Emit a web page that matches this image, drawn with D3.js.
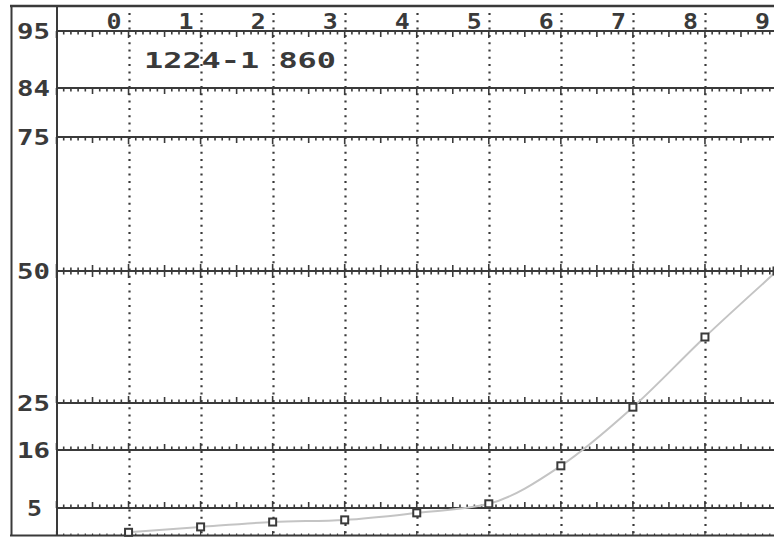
<!DOCTYPE html>
<html><head><meta charset="utf-8">
<script src="https://cdn.jsdelivr.net/npm/d3@7"></script>
<style>
html,body{margin:0;padding:0;background:#fff;}
svg{display:block;}
text{font-family:"DejaVu Sans Mono",monospace;font-weight:bold;fill:#3a3a3a;}
</style></head>
<body>
<svg id="c" width="774" height="539"></svg>
<script>
// Data
const xCategories = [0,1,2,3,4,5,6,7,8,9];
const seriesValues = [0.5,1.5,2.4,2.8,4.1,5.8,13.0,24.2,37.5,50.0];
const yTickLabels = [95,84,75,50,25,16,5];
const titleText = "1224-1 860";
// probability-like grid positions (piecewise scale)
const yDomain = [0,5,16,25,50,75,84,95];
const yRange  = [535,508,450,403,271,137,88,31];

const svg = d3.select("#c");
const ink = "#3a3a3a";
const x = d3.scaleLinear().domain([-1,9]).range([56.5,777]);
const y = d3.scaleLinear().domain(yDomain).range(yRange);

// frame
svg.append("line").attr("x1",10).attr("x2",774).attr("y1",6).attr("y2",6).attr("stroke",ink).attr("stroke-width",2.5);
svg.append("line").attr("x1",11.5).attr("x2",11.5).attr("y1",5).attr("y2",536).attr("stroke",ink).attr("stroke-width",2);
svg.append("line").attr("x1",57).attr("x2",57).attr("y1",5).attr("y2",536).attr("stroke",ink).attr("stroke-width",2);
svg.append("line").attr("x1",10).attr("x2",774).attr("y1",535.5).attr("y2",535.5).attr("stroke",ink).attr("stroke-width",2);

// dotted vertical grid lines
svg.append("g").selectAll("line").data(xCategories).join("line")
  .attr("x1",d=>Math.round(x(d))+0.5).attr("x2",d=>Math.round(x(d))+0.5)
  .attr("y1",13).attr("y2",535)
  .attr("stroke",ink).attr("stroke-width",2.2).attr("stroke-dasharray","2,5.3");

// horizontal grid lines with ticks
const minor = d3.range(-10,96).map(i=>i/10);
const dirs = {95:1,84:1,75:1,50:0,25:-1,16:-1,5:-1};
const tlen = d=>{const k=Math.round(d*10); return (k%10===0)?7:(k%5===0?6:3.5);};
yTickLabels.forEach(v=>{
  const yy = y(v);
  const g = svg.append("g");
  g.append("line").attr("x1",57).attr("x2",774).attr("y1",yy).attr("y2",yy).attr("stroke",ink).attr("stroke-width",2);
  const dir = dirs[v];
  g.selectAll("line.t").data(minor).join("line").attr("class","t")
    .attr("x1",d=>x(d)).attr("x2",d=>x(d))
    .attr("y1",d=> dir===1 ? yy : yy-tlen(d))
    .attr("y2",d=> dir===-1 ? yy : yy+tlen(d))
    .attr("stroke",ink).attr("stroke-width",1.6);
});
// small ticks on bottom line
svg.append("g").selectAll("line").data(minor).join("line")
  .attr("x1",d=>x(d)).attr("x2",d=>x(d))
  .attr("y1",d=>535-((Math.round(d*10)%10===0)?4:1.5)).attr("y2",535)
  .attr("stroke",ink).attr("stroke-width",1.2);

// y labels
svg.append("g").selectAll("text").data(yTickLabels).join("text")
  .attr("x",d=>String(d).length===2?17:27).attr("y",d=>y(d)).attr("dy","0.36em")
  .attr("font-size",21)
  .attr("textLength",d=>String(d).length===2?33:15).attr("lengthAdjust","spacingAndGlyphs")
  .text(d=>d);

// x labels
svg.append("g").selectAll("text").data(xCategories).join("text")
  .attr("x",d=>x(d)-22).attr("y",29)
  .attr("font-size",21)
  .attr("textLength",15).attr("lengthAdjust","spacingAndGlyphs")
  .text(d=>d);

// title-ish text
svg.append("text").attr("x",144).attr("y",68).attr("font-size",21)
  .attr("textLength",192).attr("lengthAdjust","spacingAndGlyphs")
  .text(titleText);

// data line
const pts = xCategories.map((c,i)=>[x(c), y(seriesValues[i])]);
svg.append("path").attr("d",d3.line().curve(d3.curveMonotoneX)(pts))
  .attr("fill","none").attr("stroke","#c4c4c4").attr("stroke-width",2);

// markers
svg.append("g").selectAll("rect").data(pts).join("rect")
  .attr("x",d=>d[0]-3.5).attr("y",d=>d[1]-3.5).attr("width",7).attr("height",7)
  .attr("fill","#fff").attr("stroke",ink).attr("stroke-width",2);
</script>
</body></html>
